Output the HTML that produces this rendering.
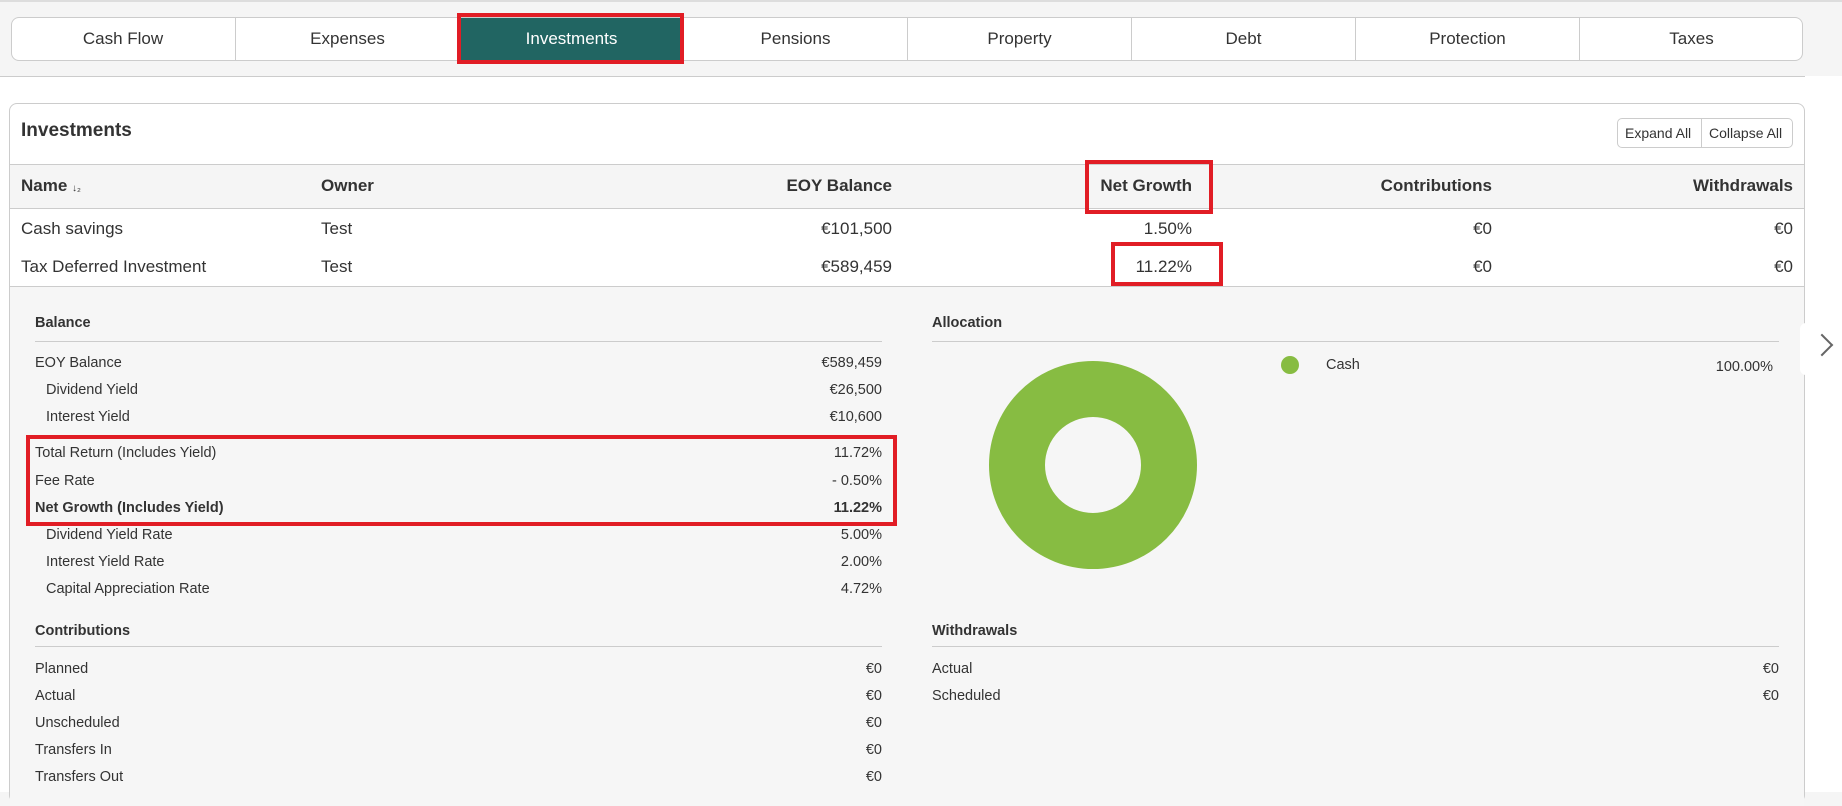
<!DOCTYPE html>
<html><head><meta charset="utf-8"><style>
*{box-sizing:border-box;margin:0;padding:0}
body{width:1842px;height:792px;overflow:hidden;background:#f5f5f5;font-family:"Liberation Sans",sans-serif;color:#333;position:relative}
.a{position:absolute;white-space:nowrap}
.tabs{position:absolute;left:11px;top:17px;width:1792px;height:44px;background:#fff;border:1px solid #ccc;border-radius:8px;overflow:hidden}
.tab{position:absolute;top:0;height:44px;width:224px;border-left:1px solid #ccc;text-align:center;line-height:42px;font-size:17px;color:#333}
.tab.act{background:#216562;color:#fff}
.fr{position:absolute;border:4px solid #e11d25}
.lt{font-size:14.5px;color:#333}
.r{text-align:right}
</style></head><body>
<div class="a" style="left:0;top:0;width:1842px;height:2px;background:#ddd"></div>
<div class="tabs">
<div class="tab" style="left:-1px;border-left:none">Cash Flow</div>
<div class="tab" style="left:223px">Expenses</div>
<div class="tab act" style="left:447px">Investments</div>
<div class="tab" style="left:671px">Pensions</div>
<div class="tab" style="left:895px">Property</div>
<div class="tab" style="left:1119px">Debt</div>
<div class="tab" style="left:1343px">Protection</div>
<div class="tab" style="left:1567px">Taxes</div>
</div>
<div class="fr" style="left:457px;top:13px;width:227px;height:51px"></div>
<div class="a" style="left:0;top:76px;width:1842px;height:716px;background:#fff;border-top:1px solid #ccc"></div>
<div class="a" style="left:9px;top:103px;width:1796px;height:700px;background:#fff;border:1px solid #ccc;border-radius:8px"></div>
<div class="a" style="left:21px;top:120px;font-size:19px;font-weight:bold;color:#333">Investments</div>
<div class="a" style="left:1617px;top:118px;width:176px;height:30px;border:1px solid #ccc;border-radius:5px;background:#fff;font-size:14px;line-height:28px">
<span class="a" style="left:7px">Expand All</span><span class="a" style="left:83px;top:0;height:28px;border-left:1px solid #ccc"></span><span class="a" style="left:91px">Collapse All</span></div>
<div class="a" style="left:10px;top:164px;width:1794px;height:45px;background:#f5f5f5;border-top:1px solid #ccc;border-bottom:1px solid #ccc"></div>
<div class="a" style="left:21px;top:176px;font-size:17px;font-weight:bold">Name <span style="font-size:10px;font-weight:normal">↓&#8322;</span></div>
<div class="a" style="left:321px;top:176px;font-size:17px;font-weight:bold">Owner</div>
<div class="a r" style="right:950px;top:176px;font-size:17px;font-weight:bold">EOY Balance</div>
<div class="a r" style="right:650px;top:176px;font-size:17px;font-weight:bold">Net Growth</div>
<div class="a r" style="right:350px;top:176px;font-size:17px;font-weight:bold">Contributions</div>
<div class="a r" style="right:49px;top:176px;font-size:17px;font-weight:bold">Withdrawals</div>
<div class="a" style="left:21px;top:219px;font-size:17px">Cash savings</div>
<div class="a" style="left:321px;top:219px;font-size:17px">Test</div>
<div class="a r" style="right:950px;top:219px;font-size:17px">€101,500</div>
<div class="a r" style="right:650px;top:219px;font-size:17px">1.50%</div>
<div class="a r" style="right:350px;top:219px;font-size:17px">€0</div>
<div class="a r" style="right:49px;top:219px;font-size:17px">€0</div>
<div class="a" style="left:21px;top:257px;font-size:17px">Tax Deferred Investment</div>
<div class="a" style="left:321px;top:257px;font-size:17px">Test</div>
<div class="a r" style="right:950px;top:257px;font-size:17px">€589,459</div>
<div class="a r" style="right:650px;top:257px;font-size:17px">11.22%</div>
<div class="a r" style="right:350px;top:257px;font-size:17px">€0</div>
<div class="a r" style="right:49px;top:257px;font-size:17px">€0</div>
<div class="fr" style="left:1085px;top:160px;width:128px;height:54px"></div>
<div class="fr" style="left:1111px;top:242px;width:112px;height:44px"></div>
<div class="a" style="left:10px;top:286px;width:1794px;height:520px;background:#f6f6f6;border-top:1px solid #ccc"></div>
<!-- left column -->
<div class="a lt" style="left:35px;top:315px;font-weight:bold">Balance</div>
<div class="a" style="left:35px;top:341px;width:847px;height:1px;background:#ccc"></div>
<div class="a lt" style="left:35px;top:355px">EOY Balance</div><div class="a lt r" style="right:960px;top:355px">€589,459</div>
<div class="a lt" style="left:46px;top:382px">Dividend Yield</div><div class="a lt r" style="right:960px;top:382px">€26,500</div>
<div class="a lt" style="left:46px;top:409px">Interest Yield</div><div class="a lt r" style="right:960px;top:409px">€10,600</div>
<div class="a lt" style="left:35px;top:445px">Total Return (Includes Yield)</div><div class="a lt r" style="right:960px;top:445px">11.72%</div>
<div class="a lt" style="left:35px;top:473px">Fee Rate</div><div class="a lt r" style="right:960px;top:473px">- 0.50%</div>
<div class="a lt" style="left:35px;top:500px;font-weight:bold">Net Growth (Includes Yield)</div><div class="a lt r" style="right:960px;top:500px;font-weight:bold">11.22%</div>
<div class="a lt" style="left:46px;top:527px">Dividend Yield Rate</div><div class="a lt r" style="right:960px;top:527px">5.00%</div>
<div class="a lt" style="left:46px;top:554px">Interest Yield Rate</div><div class="a lt r" style="right:960px;top:554px">2.00%</div>
<div class="a lt" style="left:46px;top:581px">Capital Appreciation Rate</div><div class="a lt r" style="right:960px;top:581px">4.72%</div>
<div class="fr" style="left:26px;top:435px;width:871px;height:91px"></div>
<div class="a lt" style="left:35px;top:623px;font-weight:bold">Contributions</div>
<div class="a" style="left:35px;top:646px;width:847px;height:1px;background:#ccc"></div>
<div class="a lt" style="left:35px;top:661px">Planned</div><div class="a lt r" style="right:960px;top:661px">€0</div>
<div class="a lt" style="left:35px;top:688px">Actual</div><div class="a lt r" style="right:960px;top:688px">€0</div>
<div class="a lt" style="left:35px;top:715px">Unscheduled</div><div class="a lt r" style="right:960px;top:715px">€0</div>
<div class="a lt" style="left:35px;top:742px">Transfers In</div><div class="a lt r" style="right:960px;top:742px">€0</div>
<div class="a lt" style="left:35px;top:769px">Transfers Out</div><div class="a lt r" style="right:960px;top:769px">€0</div>
<!-- right column -->
<div class="a lt" style="left:932px;top:315px;font-weight:bold">Allocation</div>
<div class="a" style="left:932px;top:341px;width:847px;height:1px;background:#ccc"></div>
<svg class="a" style="left:985px;top:357px" width="216" height="216"><circle cx="108" cy="108" r="76" fill="none" stroke="#87bc42" stroke-width="56"/></svg>
<div class="a" style="left:1281px;top:356px;width:18px;height:18px;border-radius:50%;background:#87bc42"></div>
<div class="a lt" style="left:1326px;top:357px">Cash</div>
<div class="a lt r" style="right:69px;top:359px">100.00%</div>
<div class="a lt" style="left:932px;top:623px;font-weight:bold">Withdrawals</div>
<div class="a" style="left:932px;top:646px;width:847px;height:1px;background:#ccc"></div>
<div class="a lt" style="left:932px;top:661px">Actual</div><div class="a lt r" style="right:63px;top:661px">€0</div>
<div class="a lt" style="left:932px;top:688px">Scheduled</div><div class="a lt r" style="right:63px;top:688px">€0</div>
<div class="a" style="left:1805px;top:76px;width:37px;height:716px;background:#fff"></div>
<div class="a" style="left:1800px;top:323px;width:42px;height:52px;background:#fff;border-radius:6px 0 0 6px"></div>
<div class="a" style="left:1814px;top:337px;width:16px;height:16px;border-right:2px solid #666;border-top:2px solid #666;transform:rotate(45deg)"></div>
</body></html>
